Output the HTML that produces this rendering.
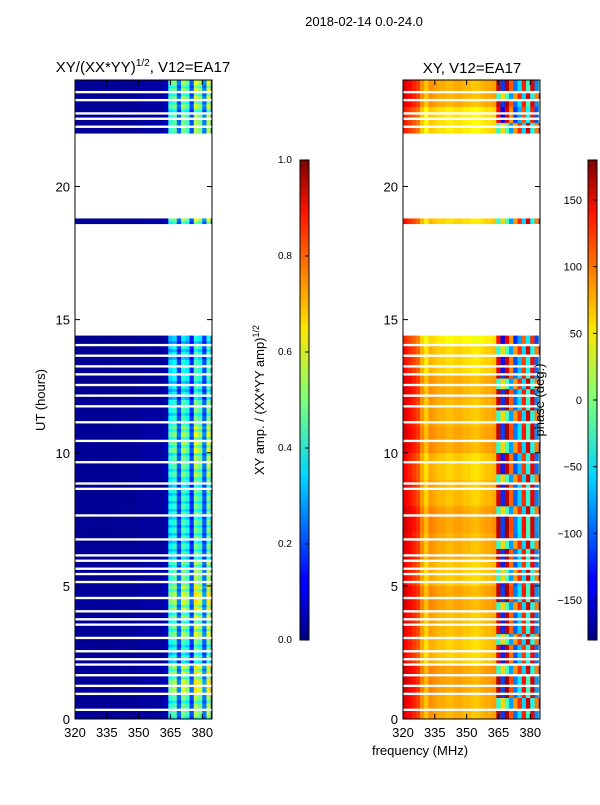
<!DOCTYPE html>
<html><head><meta charset="utf-8"><style>
body{margin:0;background:#fff;}
svg text{font-family:"Liberation Sans",sans-serif;}
</style></head><body>
<svg id="fig" width="600" height="800" xmlns="http://www.w3.org/2000/svg">
<defs>
<linearGradient id="jet" x1="0" y1="1" x2="0" y2="0">
<stop offset="0" stop-color="#00007f"/><stop offset="0.11" stop-color="#0000ff"/><stop offset="0.125" stop-color="#0000ff"/>
<stop offset="0.34" stop-color="#00d4ff"/><stop offset="0.5" stop-color="#7dff7a"/><stop offset="0.65" stop-color="#ffe500"/>
<stop offset="0.89" stop-color="#ff1500"/><stop offset="1" stop-color="#7f0000"/>
</linearGradient>
</defs>
<text x="364" y="26" font-size="13" text-anchor="middle">2018-02-14 0.0-24.0</text>
<text x="143" y="72" font-size="15" text-anchor="middle">XY/(XX*YY)<tspan font-size="10" dy="-6">1/2</tspan><tspan dy="6">, V12=EA17</tspan></text>
<text x="472" y="73" font-size="15" text-anchor="middle">XY, V12=EA17</text>
<text transform="translate(45,400) rotate(-90)" font-size="13" text-anchor="middle">UT (hours)</text>
<text x="420" y="755" font-size="13" text-anchor="middle">frequency (MHz)</text>
<text transform="translate(264,400) rotate(-90)" font-size="13" text-anchor="middle">XY amp. / (XX*YY amp)<tspan font-size="9" dy="-5">1/2</tspan></text>
<g id="left"></g><g id="right"></g>
<text transform="translate(544,400) rotate(-90)" font-size="13" text-anchor="middle">phase (deg.)</text>
<rect x="300" y="160" width="9" height="480" fill="url(#jet)" stroke="#000" stroke-width="1"/>
<rect x="588" y="160" width="9" height="480" fill="url(#jet)" stroke="#000" stroke-width="1"/>
<g id="axes"></g>
</svg>
<script>
const validSpans=[[0,14.4],[18.6,18.8],[22.0,24]];
const gapTimes=[0.35,0.95,1.25,1.6,2.0,2.2,2.55,3.05,3.5,3.75,4.05,4.55,5.15,5.45,5.65,5.95,6.1,6.75,7.6,8.6,8.8,9.6,10.4,11.1,11.75,12.15,12.55,12.95,13.25,13.65,14.0,22.25,22.55,22.75,23.25,23.55];
const channels=[320,322,324,326,328,330,332,334,336,338,340,342,344,346,348,350,352,354,356,358,360,362,364,366,368,370,372,374,376,378,380,382,384];
const ampProfile=[0.02,0.02,0.02,0.02,0.02,0.02,0.02,0.02,0.02,0.02,0.02,0.02,0.02,0.02,0.02,0.03,0.03,0.03,0.03,0.03,0.03,0.05,0.38,0.42,0.2,0.45,0.4,0.18,0.5,0.45,0.22,0.5,0.15];
const ampRow=[1.1,1.3,1.0,1.2,1.3,1.1,1.0,1.0,1.0,1.1,1.2,1.0,0.9,0.9,0.8,1,1,1,1.2,1,1,1,1.1,1.2];
const phaseProfile=[140,130,120,110,80,60,80,75,70,70,65,65,70,70,65,65,60,60,65,70,70,75,150,-120,160,100,-100,-60,120,-30,140,-90,60];
const phaseRow=[5,10,-5,0,8,-3,5,10,0,-5,8,3,5,-8,-20,0,0,0,-10,0,0,0,-15,5];
const T0=0,T1=24,F0=320,F1=384.6;
function yS(t){return 719-(t-T0)/(T1-T0)*639;}
function xS(f,x0){return x0+(f-F0)/(F1-F0)*137;}
function jet(v){v=Math.max(0,Math.min(1,v));
 const r=Math.min(4*v-1.5,-4*v+4.5),g=Math.min(4*v-0.5,-4*v+3.5),b=Math.min(4*v+0.5,-4*v+2.5);
 const c=x=>Math.round(255*Math.max(0,Math.min(1,x)));return `rgb(${c(r)},${c(g)},${c(b)})`;}
const NS='http://www.w3.org/2000/svg';
function mk(tag,at,parent){const e=document.createElementNS(NS,tag);for(const k in at)e.setAttribute(k,at[k]);parent.appendChild(e);return e;}
function isValid(r){const t=r/10+0.05;if(!validSpans.some(s=>t>=s[0]&&t<s[1]))return false;return !gapTimes.some(g=>Math.floor(g*10+1e-6)===r);}
function draw(gid,x0,valFn){const g=document.getElementById(gid);
 for(let r=0;r<240;r++){const t=r/10;if(!isValid(r))continue;const h=Math.floor(t);
  for(let c=0;c<channels.length;c++){const f=channels[c];const xa=xS(f,x0),xb=Math.min(xS(f+2,x0),x0+137);if(xa>=x0+137)continue;
   const alt=(r%3===0)?0.8:1;
   const rect=mk('rect',{x:xa.toFixed(2),y:yS(t+0.1).toFixed(2),width:(xb-xa+0.3).toFixed(2),height:(yS(t)-yS(t+0.1)+0.3).toFixed(2),fill:valFn(c,h,alt,r)},g);
   
   
  }}}
draw('left',75,(c,h,a)=>jet(ampProfile[c]*ampRow[h]*(ampProfile[c]>0.1?a:1)));
draw('right',403,(c,h,a,r)=>{let p=phaseProfile[c]+phaseRow[h];if(c>=22&&Math.floor(r/4)%3===1)p=phaseProfile[c]+180;if(p>180)p-=360;if(p<-180)p+=360;return jet((p+180)/360);});
const ax=document.getElementById('axes');
const yTicks=[0,5,10,15,20],xTicks=[320,335,350,365,380];
[75,403].forEach((x0,i)=>{
 const fr=mk('rect',{x:x0,y:80,width:137,height:639,fill:'none',stroke:'#000','stroke-width':1},ax);
 
 
 yTicks.forEach(v=>{const y=yS(v);mk('line',{x1:x0,x2:x0+5,y1:y,y2:y,stroke:'#000'},ax);mk('line',{x1:x0+137,x2:x0+132,y1:y,y2:y,stroke:'#000'},ax);
  const t=mk('text',{x:x0-5,y:y+5,'font-size':13,'text-anchor':'end'},ax);t.textContent=v;
  
  });
 xTicks.forEach(v=>{const x=xS(v,x0);mk('line',{x1:x,x2:x,y1:719,y2:714,stroke:'#000'},ax);mk('line',{x1:x,x2:x,y1:80,y2:85,stroke:'#000'},ax);
  const t=mk('text',{x:x,y:737,'font-size':13,'text-anchor':'middle'},ax);t.textContent=v;
  
  });
});
const ampTicks=[0,0.2,0.4,0.6,0.8,1.0];
ampTicks.forEach(v=>{const y=640-v*480;mk('line',{x1:305,x2:309,y1:y,y2:y,stroke:'#000'},ax);
 const t=mk('text',{x:278,y:y+3,'font-size':10},ax);t.textContent=v.toFixed(1);
 
 });
const phTicks=[-150,-100,-50,0,50,100,150];
phTicks.forEach(v=>{const y=160+(180-v)/360*480;mk('line',{x1:593,x2:597,y1:y,y2:y,stroke:'#000'},ax);
 const t=mk('text',{x:582,y:y+4,'font-size':11,'text-anchor':'end'},ax);t.textContent=(v<0?'\u2212'+(-v):v);
 
 });
</script>
</body></html>
